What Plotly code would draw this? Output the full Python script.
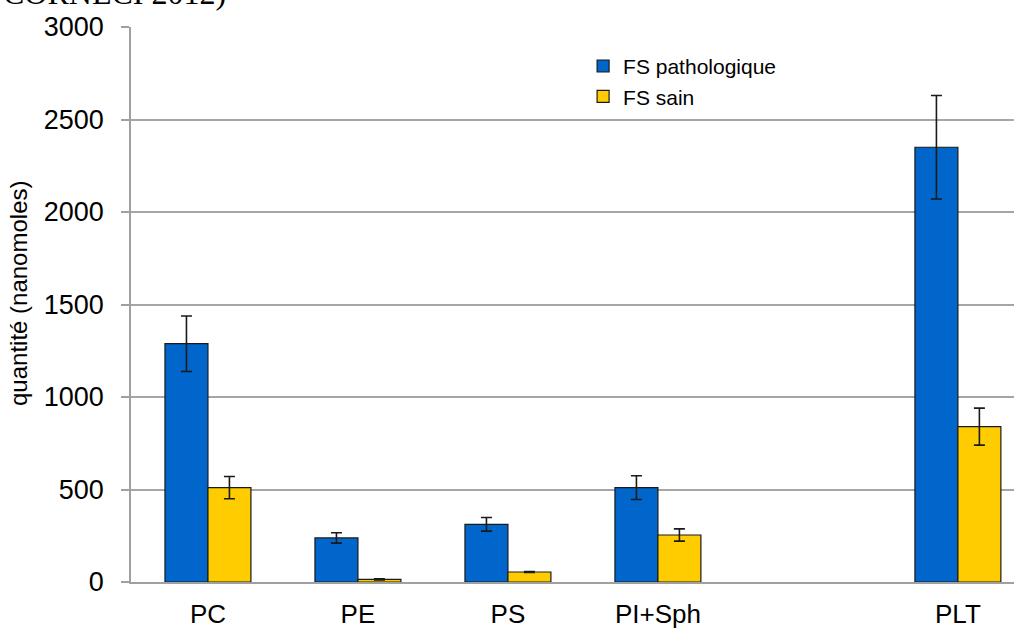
import plotly.graph_objects as go

categories = ["PC", "PE", "PS", "PI+Sph", " ", "PLT"]
patho = [1288, 238, 312, 510, None, 2350]
patho_err = [150, 28, 37, 64, None, 280]
sain = [510, 14, 54, 254, None, 840]
sain_err = [60, 3, 3, 33, None, 100]

W, H = 1014, 628
L, R, T, B = 131, 0, 27, 46
PW, PH = W - L - R, H - T - B

fig = go.Figure()
fig.add_trace(go.Bar(
    name="FS pathologique", x=categories, y=patho,
    marker=dict(color="#0066CC", line=dict(color="#1a1a1a", width=1.2)),
    error_y=dict(type="data", array=patho_err, visible=True,
                 color="#1a1a1a", thickness=1.6, width=5.5),
))
fig.add_trace(go.Bar(
    name="FS sain", x=categories, y=sain,
    marker=dict(color="#FFCC00", line=dict(color="#1a1a1a", width=1.2)),
    error_y=dict(type="data", array=sain_err, visible=True,
                 color="#1a1a1a", thickness=1.6, width=5.5),
))

fig.update_layout(
    width=W, height=H,
    margin=dict(l=L, r=R, t=T, b=B, pad=0, autoexpand=False),
    paper_bgcolor="white", plot_bgcolor="white",
    barmode="group", bargap=0.427, bargroupgap=0,
    font=dict(family="Arial, Liberation Sans, sans-serif", color="black"),
    showlegend=True,
    legend=dict(x=0.512, y=0.966, xanchor="left", yanchor="top",
                font=dict(size=21, color="black"),
                bgcolor="rgba(0,0,0,0)", traceorder="normal"),
    xaxis=dict(type="category", categoryorder="array", categoryarray=categories,
               range=[-0.513, 5.374], showgrid=False, showline=True,
               linecolor="#a0a0a0", linewidth=1.5, ticks="", automargin=False,
               tickfont=dict(size=26, color="black"), ticklabelstandoff=8),
    yaxis=dict(range=[0, 3000], tickvals=[0, 500, 1000, 1500, 2000, 2500, 3000],
               showgrid=True, gridcolor="#a6a6a6", gridwidth=1.5,
               showline=True, linecolor="#a0a0a0", linewidth=1.5,
               ticks="outside", ticklen=8, tickcolor="#a0a0a0", tickwidth=1.5,
               zeroline=False, tickfont=dict(size=27, color="black"),
               ticklabelstandoff=12, automargin=False),
)

# y-axis title
fig.add_annotation(
    text="quantité (nanomoles)", xref="paper", yref="paper",
    x=(18 - L) / PW, y=(H - B - 293) / PH, textangle=-90,
    xanchor="center", yanchor="middle", showarrow=False,
    font=dict(size=24, color="black"),
)

# source text cut off at the top, as in the original
fig.add_annotation(
    text="CORNECI 2012)", xref="paper", yref="paper",
    x=(228 - L) / PW, y=1 + (T - 13) / PH,
    xanchor="right", yanchor="bottom", showarrow=False,
    font=dict(family="Liberation Serif, Times New Roman, serif", size=32, color="black"),
)

fig.write_html("out.html", config={"displayModeBar": False},
               post_script="document.body.style.margin='0';document.body.style.overflow='hidden';")
